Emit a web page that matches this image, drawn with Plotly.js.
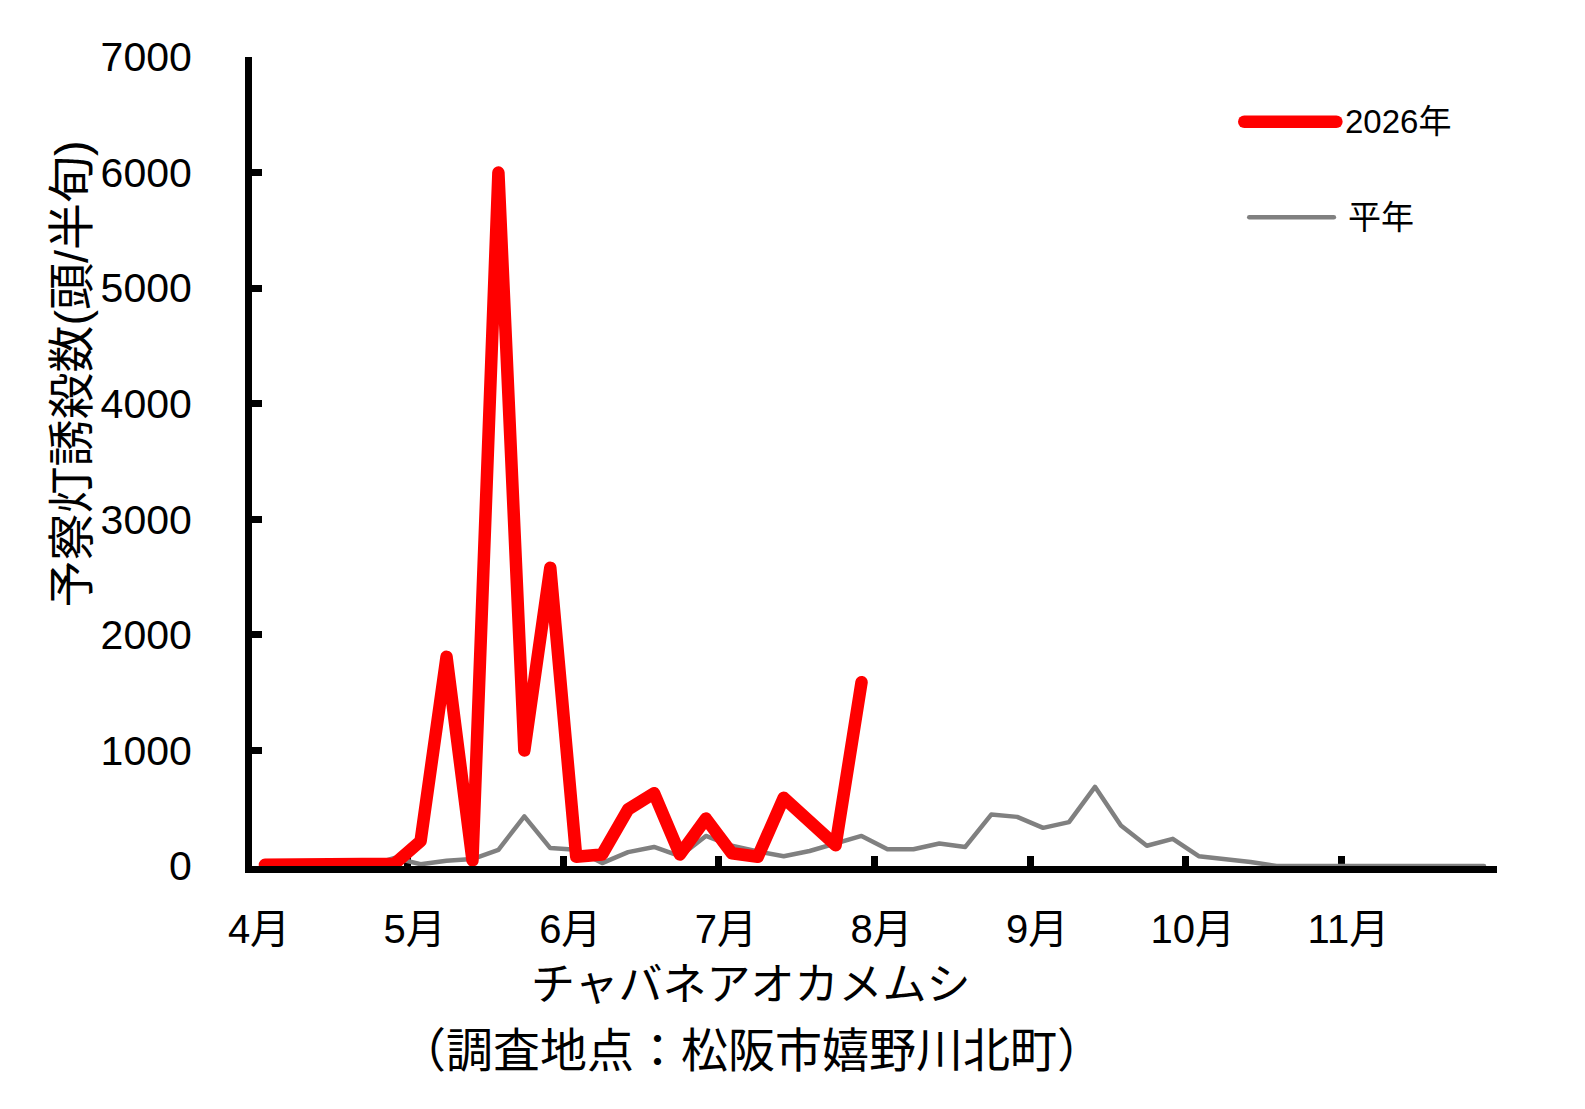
<!DOCTYPE html>
<html>
<head>
<meta charset="utf-8">
<script src="https://cdn.plot.ly/plotly-3.0.1.min.js"></script>
<style>
  html, body { margin: 0; padding: 0; background: #fff; }
  #chart { width: 1585px; height: 1109px; }
  .js-line { stroke-linejoin: round; stroke-linecap: round; }
  .shapelayer path { stroke-linecap: round; }
</style>
</head>
<body>
<div id="chart"></div>
<script>
// 半旬ごとの誘殺数 (1か月 = 6半旬, 4月〜11月)
const months = ["4月", "5月", "6月", "7月", "8月", "9月", "10月", "11月"];
const pentadsPerMonth = 6;

// 2026年 (7月末まで)
const catch2026 = [
  10, 15, 15, 20, 15, 20,
  215, 1810, 50, 6000, 1000, 2580,
  80, 100, 490, 630, 100, 410,
  110, 80, 590, 400, 180, 1590
];

// 平年
const normalYear = [
  3, 3, 3, 3, 3, 70,
  15, 45, 60, 140, 430, 155,
  140, 25, 120, 165, 85, 260,
  175, 125, 85, 130, 190, 260,
  145, 145, 195, 165, 445, 425,
  330, 380, 685, 350, 175, 235,
  85, 60, 35, 0, 0, 0,
  0, 0, 0, 0, 0, 0
];

const seriesNames = ["2026年", "平年"];

const FONT = "'Liberation Sans', 'Noto Sans CJK JP', sans-serif";
const nCats = months.length * pentadsPerMonth;

const tickVals = [];
const tickText = [];
for (let m = 0; m <= months.length; m++) {
    tickVals.push(m * pentadsPerMonth - 0.5);
    tickText.push(m < months.length ? months[m] : "");
}

const traceNormal = {
    x: normalYear.map((v, i) => i),
    y: normalYear,
    name: seriesNames[1],
    type: "scatter",
    mode: "lines",
    line: { color: "#808080", width: 4.5 },
    cliponaxis: false,
    hoverinfo: "skip"
};

const trace2026 = {
    x: catch2026.map((v, i) => i),
    y: catch2026,
    name: seriesNames[0],
    type: "scatter",
    mode: "lines",
    line: { color: "#ff0000", width: 12.5 },
    cliponaxis: false,
    hoverinfo: "skip"
};

// legend drawn by hand (long swatches like the original)
const legendShapes = [
    { type: "line", xref: "paper", yref: "paper", x0: 0.797, x1: 0.871, y0: 0.92, y1: 0.92,
      line: { color: "#ff0000", width: 12.5 } },
    { type: "line", xref: "paper", yref: "paper", x0: 0.801, x1: 0.869, y0: 0.802, y1: 0.802,
      line: { color: "#808080", width: 4.5 } }
];

const annotations = [
    { text: seriesNames[0], xref: "paper", yref: "paper", x: 0.876, y: 0.92,
      xanchor: "left", yanchor: "middle", showarrow: false, font: { family: FONT, size: 33, color: "#000" } },
    { text: seriesNames[1], xref: "paper", yref: "paper", x: 0.879, y: 0.802,
      xanchor: "left", yanchor: "middle", showarrow: false, font: { family: FONT, size: 33, color: "#000" } },
    { text: "予察灯誘殺数(頭/半旬)", xref: "paper", yref: "paper", x: -0.145, y: 0.608,
      xanchor: "center", yanchor: "middle", textangle: -90, showarrow: false,
      font: { family: FONT, size: 47, color: "#000" } },
    { text: "チャバネアオカメムシ", xref: "paper", yref: "paper", x: 0.401, y: -0.146,
      xanchor: "center", yanchor: "middle", showarrow: false,
      font: { family: FONT, size: 44, color: "#000" } },
    { text: "（調査地点：松阪市嬉野川北町）", xref: "paper", yref: "paper", x: 0.401, y: -0.228,
      xanchor: "center", yanchor: "middle", showarrow: false,
      font: { family: FONT, size: 47, color: "#000" } }
];

const layout = {
    width: 1585,
    height: 1109,
    margin: { l: 252, r: 88, t: 57, b: 243 },
    paper_bgcolor: "#fff",
    plot_bgcolor: "#fff",
    font: { family: FONT, color: "#000" },
    showlegend: false,
    xaxis: {
        range: [-0.5, nCats - 0.5],
        tickmode: "array",
        tickvals: tickVals,
        ticktext: tickText,
        ticks: "inside",
        ticklen: 10,
        tickwidth: 7,
        tickcolor: "#000",
        ticklabelshift: 7,
        ticklabelstandoff: 22,
        tickfont: { family: FONT, size: 40, color: "#000" },
        showline: true,
        linewidth: 7,
        linecolor: "#000",
        showgrid: false,
        zeroline: false,
        layer: "below traces",
        fixedrange: true
    },
    yaxis: {
        range: [0, 7000],
        tickmode: "array",
        tickvals: [0, 1000, 2000, 3000, 4000, 5000, 6000, 7000],
        ticks: "inside",
        ticklen: 10,
        tickwidth: 7,
        tickcolor: "#000",
        ticklabelstandoff: 45,
        tickfont: { family: FONT, size: 41, color: "#000" },
        showline: true,
        linewidth: 7,
        linecolor: "#000",
        showgrid: false,
        zeroline: false,
        layer: "below traces",
        fixedrange: true
    },
    shapes: legendShapes,
    annotations: annotations
};

Plotly.newPlot("chart", [traceNormal, trace2026], layout, { displayModeBar: false, staticPlot: true });
</script>
</body>
</html>
